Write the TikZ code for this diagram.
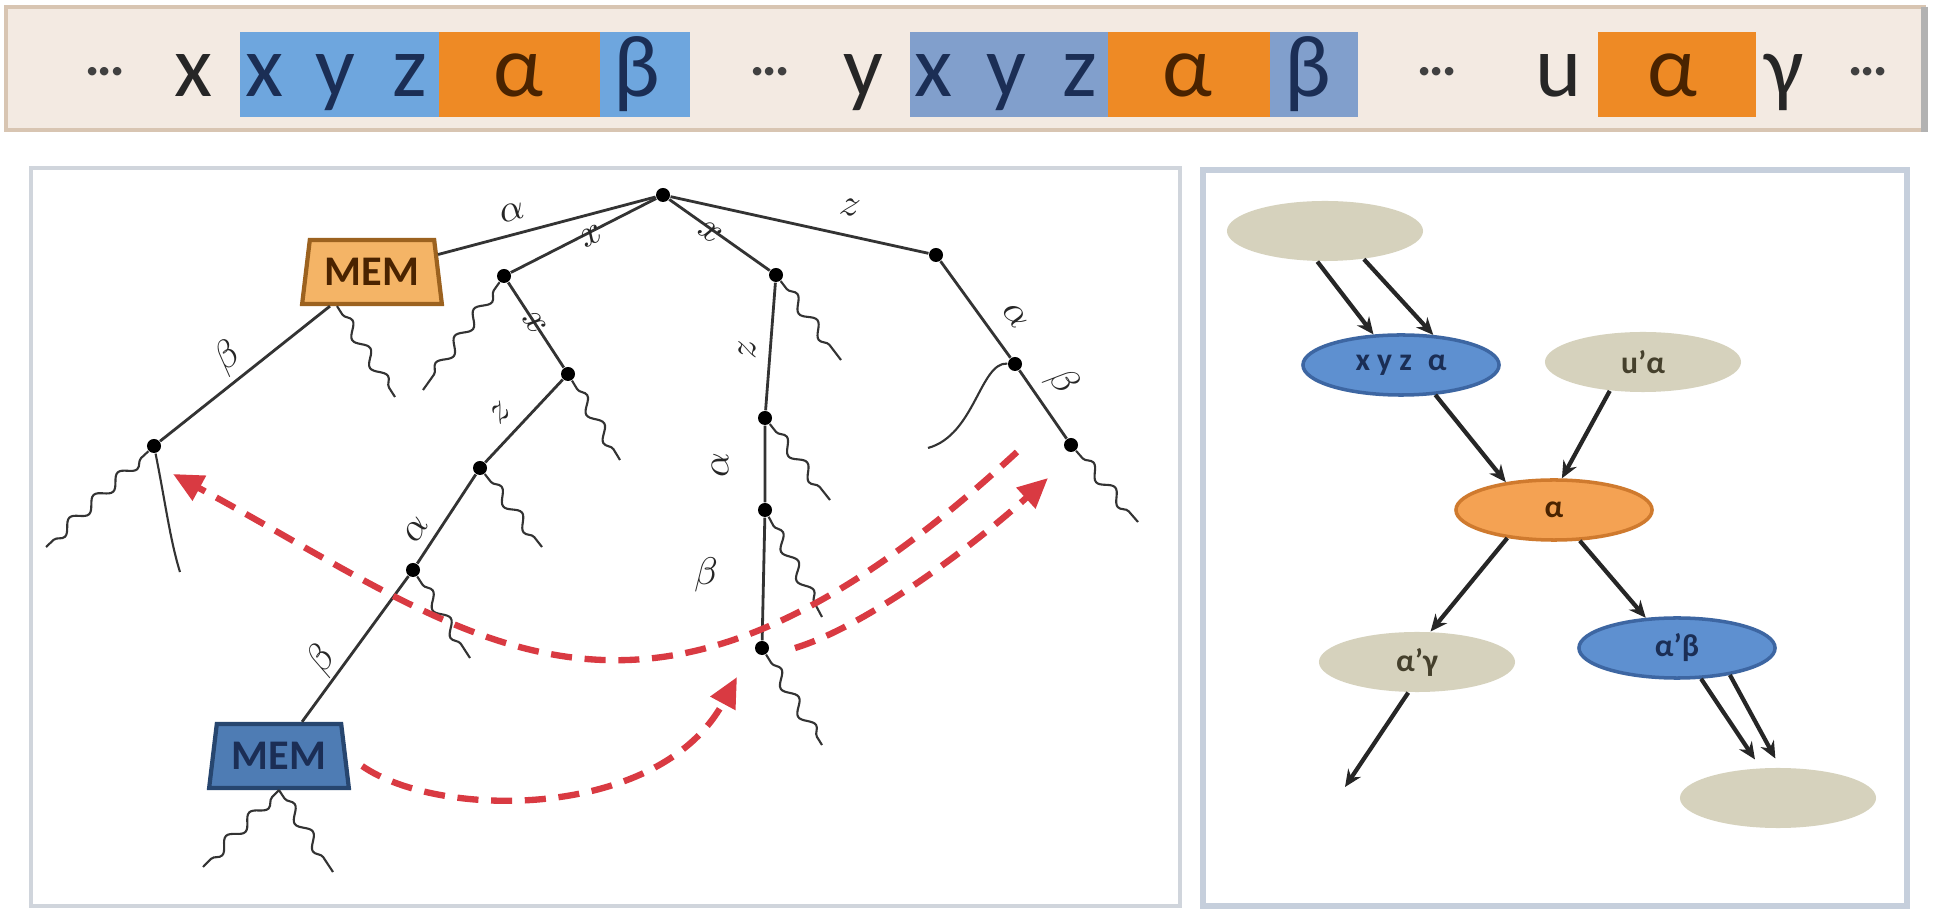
\documentclass[tikz,border=0pt]{standalone}
\usepackage{fontspec}
\setmainfont{Carlito}
\usetikzlibrary{shapes.geometric,arrows.meta,decorations.pathmorphing}
\definecolor{barbg}{HTML}{F3EAE2}
\definecolor{barbd}{HTML}{D8C5B2}
\definecolor{boxblue}{HTML}{6EA6DE}
\definecolor{boxblueb}{HTML}{819FCC}
\definecolor{boxor}{HTML}{EE8A25}
\definecolor{panelbd}{HTML}{D0D5DC}
\definecolor{panelbdb}{HTML}{C6CFDC}
\definecolor{elltan}{HTML}{D6D2BD}
\definecolor{ellblue}{HTML}{5E90D0}
\definecolor{ellblued}{HTML}{3D66A2}
\definecolor{ellor}{HTML}{F4A253}
\definecolor{ellord}{HTML}{CF7A2E}
\definecolor{memor}{HTML}{F4B466}
\definecolor{memord}{HTML}{9C621F}
\definecolor{memblue}{HTML}{4E7CB4}
\definecolor{membd}{HTML}{27466F}
\definecolor{dred}{HTML}{D93A42}
\definecolor{navy}{HTML}{1B2E55}
\definecolor{brownt}{HTML}{4A2300}
\definecolor{olivet}{HTML}{45402C}
\begin{document}
\begin{tikzpicture}[x=0.01cm,y=-0.01cm,
  tok/.style={inner sep=0pt, anchor=base, text=black!85, font=\fontsize{25}{25}\selectfont},
  dots/.style={inner sep=0pt, text=black!75, font=\fontsize{13}{13}\selectfont\bfseries},
  dot/.style={circle, fill=black, inner sep=0pt, minimum size=0.14cm},
  edge/.style={draw=black!80, line width=0.8pt},
  lbl/.style={inner sep=0pt, text=black!85, font=\fontsize{11}{11}\selectfont},
  leaf/.style={draw=black!80, line width=0.6pt, decorate, decoration={snake, amplitude=0.55mm, segment length=3.3mm, pre length=1mm, post length=0.5mm}},
  thinleaf/.style={draw=black!80, line width=0.6pt},
  mem/.style={trapezium, trapezium left angle=78, trapezium right angle=78, trapezium stretches=true, minimum width=1.4cm, minimum height=0.64cm, inner sep=0pt, line width=1.2pt, font=\fontsize{12}{12}\selectfont\bfseries},
  rarr/.style={draw=dred, line width=1.8pt, dash pattern=on 6pt off 3.6pt, -{Triangle[length=0.3cm, width=0.27cm]}},
  ell/.style={ellipse, minimum width=1.96cm, minimum height=0.6cm, inner sep=0pt, font=\fontsize{9}{9}\selectfont\bfseries},
  garr/.style={draw=black!85, line width=1.2pt, -{Stealth[length=0.17cm, width=0.15cm]}},
]
\useasboundingbox (0,0) rectangle (1933,916);
\fill[white] (0,0) rectangle (1933,916);

% ---------- top bar ----------
\fill[barbg] (6,7) rectangle (1924,130);
\draw[barbd, line width=1.2pt] (6,7) rectangle (1924,130);
\draw[black!30, line width=2pt] (1924,7) -- (1924,132);
\fill[boxblue] (240,32) rectangle (439,117);
\fill[boxor] (439,32) rectangle (600,117);
\fill[boxblue] (600,32) rectangle (690,117);
\fill[boxblueb] (910,32) rectangle (1108,117);
\fill[boxor] (1108,32) rectangle (1270,117);
\fill[boxblueb] (1270,32) rectangle (1358,117);
\fill[boxor] (1598,32) rectangle (1756,117);

\node[dots] (d1) at (105,76) {···};
\node[tok] (t1) at (194,97) {x};
\node[tok, text=navy] (t2) at (265,97) {x};
\node[tok, text=navy] (t3) at (335,97) {y};
\node[tok, text=navy] (t4) at (410,97) {z};
\node[tok, text=brownt] (t5) at (518,97) {α};
\node[tok, text=navy] (t6) at (637,97) {β};
\node[dots] (d2) at (770,76) {···};
\node[tok] (t7) at (863,97) {y};
\node[tok, text=navy] (t8) at (934,97) {x};
\node[tok, text=navy] (t9) at (1006,97) {y};
\node[tok, text=navy] (t10) at (1080,97) {z};
\node[tok, text=brownt] (t11) at (1187,97) {α};
\node[tok, text=navy] (t12) at (1308,97) {β};
\node[dots] (d3) at (1437,76) {···};
\node[tok] (t13) at (1559,97) {u};
\node[tok, text=brownt] (t14) at (1672,97) {α};
\node[tok] (t15) at (1784,97) {γ};
\node[dots] (d4) at (1868,76) {···};

% ---------- panels ----------
\draw[panelbd, line width=1.2pt, fill=white] (31,168) rectangle (1180,906);
\draw[panelbdb, line width=1.6pt, fill=white] (1203,170) rectangle (1907,906);

% ---------- tree ----------
\node[dot] (R) at (663,195) {};
\node[mem, fill=memor, draw=memord, text=brownt] (MO) at (372,272) {MEM};
\node[dot] (A) at (504,276) {};
\node[dot] (B) at (568,374) {};
\node[dot] (C) at (480,468) {};
\node[dot] (D) at (413,570) {};
\node[mem, fill=memblue, draw=membd, text=navy] (MB) at (279,756) {MEM};
\node[dot] (E) at (776,275) {};
\node[dot] (F) at (765,418) {};
\node[dot] (G) at (765,510) {};
\node[dot] (H) at (762,648) {};
\node[dot] (I) at (936,255) {};
\node[dot] (J) at (1015,364) {};
\node[dot] (K) at (1071,445) {};
\node[dot] (L) at (154,446) {};

\draw[edge] (R) -- (MO);
\draw[edge] (R) -- (A) -- (B) -- (C) -- (D);
\draw[edge] (D) -- ([xshift=0.23cm]MB.north);
\draw[edge] (R) -- (E) -- (F) -- (G) -- (H);
\draw[edge] (R) -- (I) -- (J) -- (K);
\draw[edge] ([xshift=-0.42cm]MO.south) -- (L);

\node[lbl, rotate=15] (la1) at (512,212) {$\alpha$};
\node[lbl, rotate=27] (la2) at (592,236) {$x$};
\node[lbl, rotate=-55] (la3) at (535,323) {$x$};
\node[lbl, rotate=46] (la4) at (500,413) {$z$};
\node[lbl, rotate=57] (la5) at (416,530) {$\alpha$};
\node[lbl, rotate=55] (la6) at (322,660) {$\beta$};
\node[lbl, rotate=-36] (la7) at (710,232) {$x$};
\node[lbl, rotate=90] (la8) at (747,350) {$z$};
\node[lbl, rotate=90] (la9) at (720,465) {$\alpha$};
\node[lbl] (la10) at (706,575) {$\beta$};
\node[lbl, rotate=-12] (la11) at (850,207) {$z$};
\node[lbl, rotate=-55] (la12) at (1015,316) {$\alpha$};
\node[lbl, rotate=-55] (la13) at (1062,382) {$\beta$};
\node[lbl, rotate=38] (la14) at (228,358) {$\beta$};

% leaves
\coordinate (lmo) at (395,397);
\coordinate (la) at (423,390);
\coordinate (lb) at (620,460);
\coordinate (lc) at (542,547);
\coordinate (ld) at (470,658);
\coordinate (le) at (841,360);
\coordinate (lf) at (830,500);
\coordinate (lg) at (822,617);
\coordinate (lh) at (822,745);
\coordinate (lk) at (1138,522);
\coordinate (ll1) at (46,547);
\coordinate (ll2) at (180,572);
\coordinate (lj) at (928,448);
\coordinate (lm1) at (203,867);
\coordinate (lm2) at (333,872);
\draw[leaf] ([xshift=-0.35cm]MO.south) -- (lmo);
\draw[leaf] (A) -- (la);
\draw[leaf] (B) -- (lb);
\draw[leaf] (C) -- (lc);
\draw[leaf] (D) -- (ld);
\draw[leaf] (E) -- (le);
\draw[leaf] (F) -- (lf);
\draw[leaf] (G) -- (lg);
\draw[leaf] (H) -- (lh);
\draw[leaf] (K) -- (lk);
\draw[leaf] (L) -- (ll1);
\draw[thinleaf] (L) .. controls (165,500) and (170,540) .. (ll2);
\draw[thinleaf] (J) .. controls (980,362) and (975,435) .. (lj);
\draw[leaf] (MB.south) -- (lm1);
\draw[leaf] (MB.south) -- (lm2);

% red dashed arrows
\coordinate (r1s) at (1017,452);
\coordinate (r1e) at (173,474);
\coordinate (r2s) at (795,648);
\coordinate (r2e) at (1048,478);
\coordinate (r3e) at (737,677);
\draw[rarr] (r1s) .. controls (640,800) and (480,640) .. (r1e);
\draw[rarr] (r2s) .. controls (870,625) and (980,540) .. (r2e);
\draw[rarr] ([xshift=0.15cm,yshift=-0.1cm]MB.east) .. controls (440,820) and (660,820) .. (r3e);

% ---------- right panel ----------
\node[ell, fill=elltan] (T1) at (1325,231) {};
\node[ell, fill=ellblue, draw=ellblued, line width=1pt, text=navy] (XYZ) at (1401,365) {x y z\enspace α};
\node[ell, fill=elltan, text=olivet] (UA) at (1643,362) {u'α};
\node[ell, fill=ellor, draw=ellord, line width=1pt, text=brownt] (AL) at (1554,510) {α};
\node[ell, fill=elltan, text=olivet] (AG) at (1417,662) {α'γ};
\node[ell, fill=ellblue, draw=ellblued, line width=1pt, text=navy] (AB) at (1677,648) {α'β};
\node[ell, fill=elltan] (T2) at (1778,798) {};
\coordinate (gfree) at (1345,787);

\draw[garr] (T1.-104) -- (XYZ.132);
\draw[garr] (T1.-36) -- (XYZ.43);
\draw[garr] (XYZ.-41) -- (AL.150);
\draw[garr] (UA.-139) -- (AL.76);
\draw[garr] (AL.-149) -- (AG.66);
\draw[garr] (AL.-50) -- (AB.136);
\draw[garr] (AG.-106) -- (gfree);
\draw[garr, shorten >=0.1cm] (AB.-52) -- (T2.120);
\draw[garr, shorten >=0.1cm] (AB.-27) -- (T2.86);
\end{tikzpicture}
\end{document}
